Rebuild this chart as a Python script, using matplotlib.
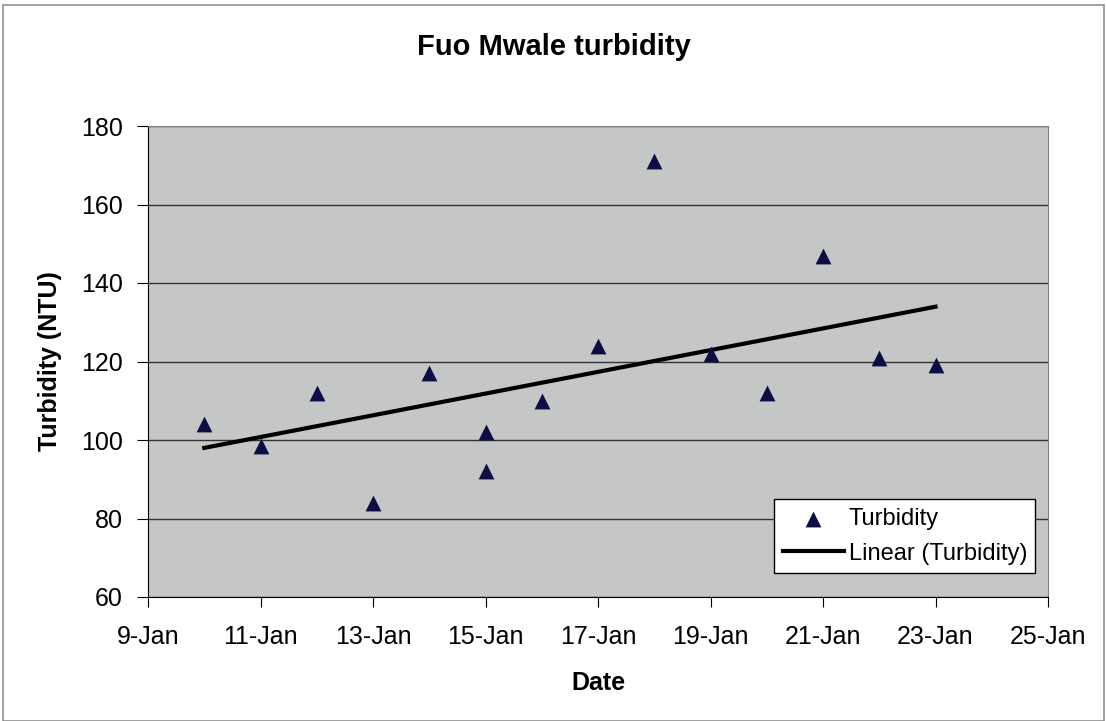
import datetime as dt

import numpy as np
import matplotlib as mpl
mpl.use('agg')
import matplotlib.pyplot as plt
import matplotlib.dates as mdates
from matplotlib.patches import Rectangle

plt.rcParams['font.family'] = ['Liberation Sans', 'DejaVu Sans']

# sample dates (day of January) and turbidity readings
days = [10, 11, 12, 13, 14, 15, 15, 16, 17, 18, 19, 20, 21, 22, 23]
turbidity = [104, 98.5, 112, 84, 117, 102, 92, 110, 124, 171, 122, 112, 147, 121, 119]

dates = [dt.datetime(2007, 1, d) for d in days]
x = mdates.date2num(dates)

# Excel-style linear trend line over the data range
slope, intercept = np.polyfit(x, turbidity, 1)
xfit = np.array([x.min(), x.max()])
yfit = slope * xfit + intercept

fig = plt.figure(figsize=(11.07, 7.21), dpi=100)
fig.patch.set_facecolor('white')
fig.patches.append(Rectangle((0.003, 0.0), 0.994, 0.993, transform=fig.transFigure,
                             fill=False, edgecolor='#909090', lw=1.2))
ax = fig.add_axes([148 / 1107, 1 - 597 / 721, 900 / 1107, 471 / 721])
ax.set_facecolor('#c5c7c7')

ax.scatter(x, turbidity, marker='^', s=130, c='#0d0d45', linewidths=0,
           zorder=3, label='Turbidity')
ax.plot(xfit, yfit, color='black', lw=3, zorder=2, label='Linear (Turbidity)')

ax.set_xlim(mdates.date2num(dt.datetime(2007, 1, 9)), mdates.date2num(dt.datetime(2007, 1, 25)))
ax.set_ylim(60, 180)
ax.set_yticks(np.arange(60, 181, 20))
ax.xaxis.set_major_locator(mdates.DayLocator(bymonthday=range(9, 26, 2)))
ax.xaxis.set_major_formatter(mpl.ticker.FuncFormatter(
    lambda v, pos: '%d-%s' % (mdates.num2date(v).day, mdates.num2date(v).strftime('%b'))))

ax.yaxis.grid(True, color='#333333', lw=1)
ax.set_axisbelow(True)
for side in ['top', 'right']:
    ax.spines[side].set_color('#808080')
ax.spines['left'].set_color('black')
ax.spines['bottom'].set_color('black')
ax.tick_params(axis='both', labelsize=18, direction='out', color='black')
ax.tick_params(axis='y', length=8, pad=10)
ax.tick_params(axis='x', length=7, pad=13)

ax.set_xlabel('Date', fontsize=18, fontweight='bold', labelpad=16)
ax.set_ylabel('Turbidity (NTU)', fontsize=18, fontweight='bold', labelpad=14)
fig.text(0.5, 1 - 47 / 721, 'Fuo Mwale turbidity', ha='center', va='center',
         fontsize=21, fontweight='bold')

leg = ax.legend(loc='lower right', bbox_to_anchor=(0.986, 0.051), fontsize=17,
                frameon=True, fancybox=False, edgecolor='black', framealpha=1,
                borderpad=0.35, labelspacing=0.55, handlelength=2.6, handletextpad=0.2,
                borderaxespad=0)
leg.get_frame().set_linewidth(1)

fig.savefig('out.png', dpi=100)
